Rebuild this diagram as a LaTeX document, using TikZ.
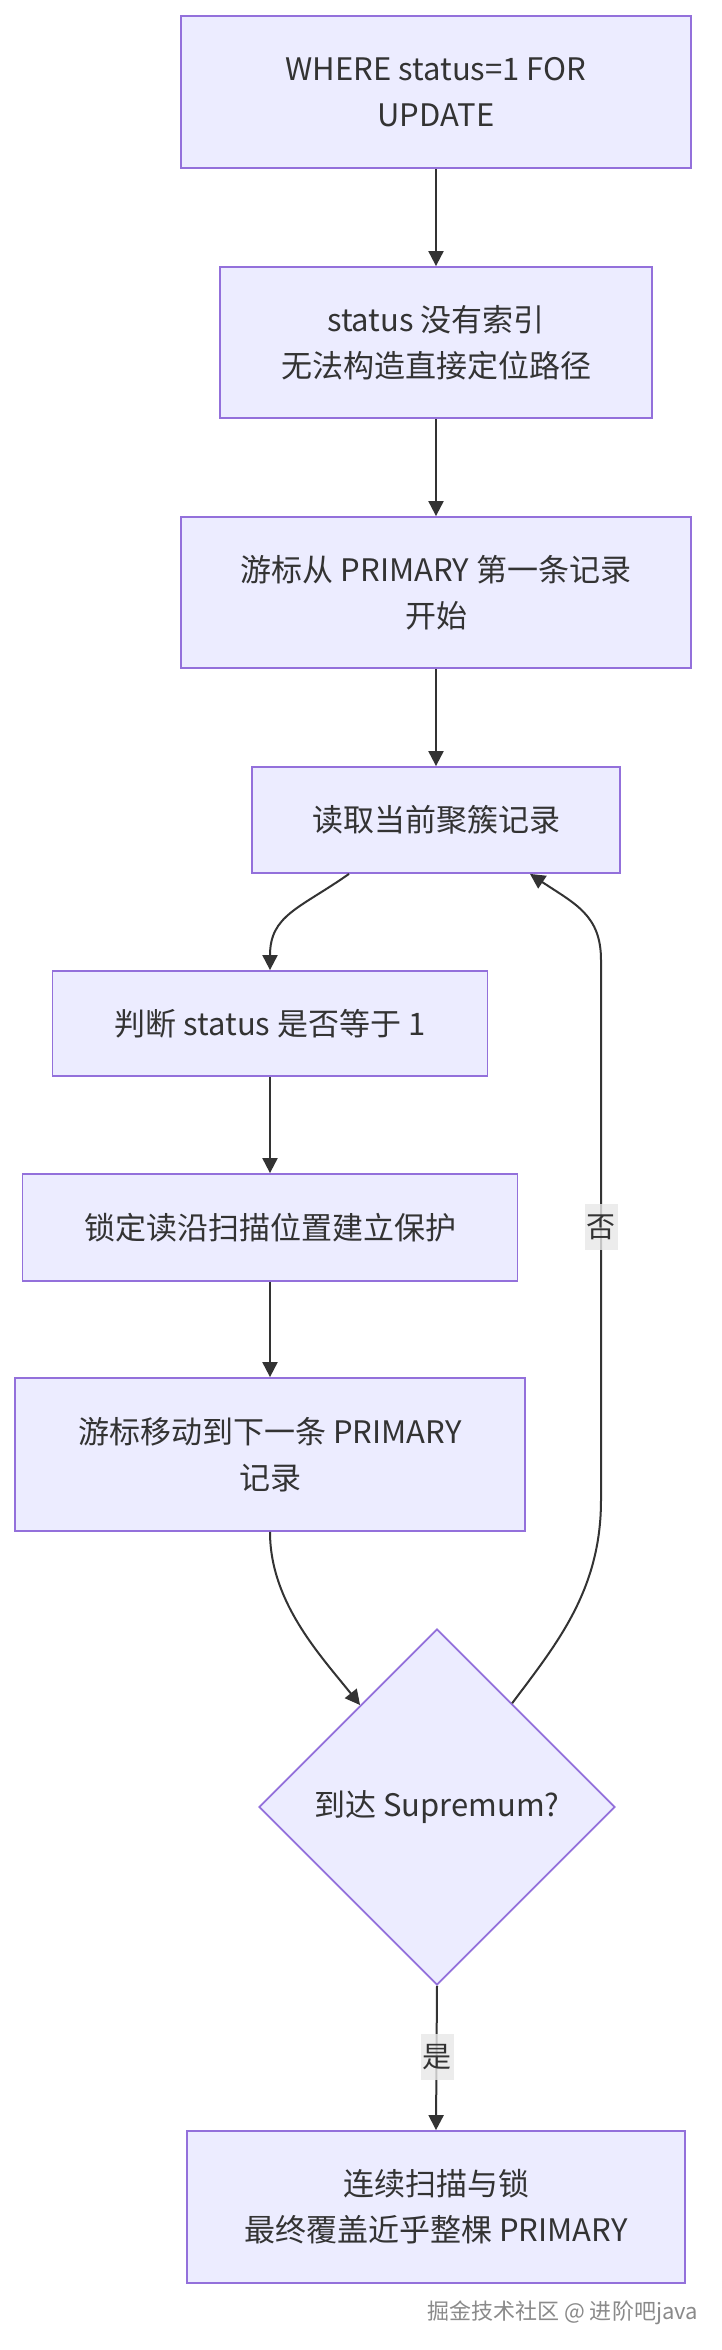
\documentclass[tikz,border=0pt]{standalone}
\usepackage{fontspec}
\setmainfont{Noto Sans CJK SC}
\usetikzlibrary{shapes.geometric,arrows.meta,calc}
\definecolor{nodefill}{HTML}{ECECFF}
\definecolor{nodeborder}{HTML}{9370DB}
\definecolor{txt}{HTML}{333333}
\definecolor{edgec}{HTML}{333333}
\definecolor{lblbg}{HTML}{E8E8E8}
\definecolor{wmc}{HTML}{8A8A8A}
\begin{document}
\begin{tikzpicture}[x=1pt,y=-1pt,
 box/.style={draw=nodeborder, fill=nodefill, line width=1.8pt, inner sep=0pt, align=center, text=txt, font=\fontsize{31}{46}\selectfont},
 dia/.style={diamond, draw=nodeborder, fill=nodefill, line width=1.8pt, inner sep=0pt, minimum width=356pt, minimum height=356pt, align=center, text=txt, font=\fontsize{31}{46}\selectfont},
 arr/.style={draw=edgec, line width=2pt, -{Triangle[length=15pt,width=15pt]}},
 lbl/.style={fill=lblbg, fill opacity=0.8, text opacity=1, text=txt, inner sep=2pt, minimum width=33pt, minimum height=46pt, font=\fontsize{29}{34}\selectfont}
]
\useasboundingbox (0,0) rectangle (722,2350);
\fill[white] (0,0) rectangle (722,2350);

\node[box, minimum width=510pt, minimum height=152pt] (b1) at (436,92) {WHERE status=1 FOR\\UPDATE};
\node[box, minimum width=432pt, minimum height=151pt] (b2) at (436,342.5) {status 没有索引\\无法构造直接定位路径};
\node[box, minimum width=510pt, minimum height=151pt] (b3) at (436,592.5) {游标从 PRIMARY 第一条记录\\开始};
\node[box, minimum width=368pt, minimum height=106pt] (b4) at (436,820) {读取当前聚簇记录};
\node[box, minimum width=435pt, minimum height=105pt] (b5) at (270,1023.5) {判断 status 是否等于 1};
\node[box, minimum width=495pt, minimum height=107pt] (b6) at (270,1227.5) {锁定读沿扫描位置建立保护};
\node[box, minimum width=510pt, minimum height=153pt] (b7) at (270,1454.5) {游标移动到下一条 PRIMARY\\记录};
\node[dia] (d) at (437,1807) {到达 Supremum?};
\node[box, minimum width=498pt, minimum height=152pt] (b8) at (436,2207) {连续扫描与锁\\最终覆盖近乎整棵 PRIMARY};

\draw[arr] (b1) -- (b2);
\draw[arr] (b2) -- (b3);
\draw[arr] (b3) -- (b4);
\draw[arr] ([xshift=-87pt]b4.south) .. controls +(-50,35) and +(0,-55) .. (b5.north);
\draw[arr] (b5) -- (b6);
\draw[arr] (b6) -- (b7);
\draw[arr] (b7.south) .. controls +(0,70) and +(-40,-50) .. ($(d.west)!0.57!(d.north)$);
\draw[arr] ($(d.east)!0.58!(d.north)$) .. controls +(45,-60) and (601,1590) .. (601,1500) -- (601,960) .. controls (601,915) and +(45,30) .. ([xshift=94pt]b4.south);
\draw[arr] (d.south) -- (b8.north);

\node[lbl] (lno) at (601,1227) {否};
\node[lbl] (lyes) at (437,2057) {是};

\node[anchor=east, text=wmc, font=\fontsize{22}{26}\selectfont, inner sep=0pt] (wm) at (698,2313) {掘金技术社区 @ 进阶吧java};
\end{tikzpicture}
\end{document}
